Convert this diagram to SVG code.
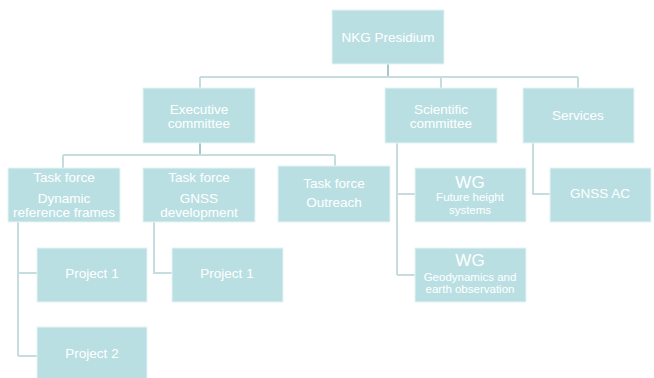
<svg xmlns="http://www.w3.org/2000/svg" width="654" height="378" viewBox="0 0 654 378">
<style>
.box{fill:#badfe3;stroke:#e6f3f4;stroke-width:1}
.t{fill:#ffffff;font-family:"Liberation Sans",Arial,sans-serif;font-size:13.5px;text-anchor:middle}
.s{font-size:11.5px}
.wg{font-size:17px}
.c{fill:none;stroke:#c6dde0;stroke-width:2}
.cd{fill:none;stroke:#a7c7cb;stroke-width:2}
</style>
<rect width="654" height="378" fill="#ffffff"/>
<g id="connectors">
<path class="cd" d="M388 64V77"/>
<path class="c" d="M200 77H578M200 77V88M441 77V88M578 77V88"/>
<path class="cd" d="M200 143V155"/>
<path class="c" d="M63 155H335M63 155V168M335 155V166"/>
<path class="c" d="M397 143V275M397 194H415M397 275H415"/>
<path class="c" d="M533 143V194H550"/>
<path class="c" d="M18 222V356M18 273H37M18 356H37"/>
<path class="c" d="M154 222V273H172"/>
</g>
<g id="presidium"><rect class="box" x="332" y="10" width="112" height="54"/><text class="t" x="388" y="42">NKG Presidium</text></g>
<g id="executive"><rect class="box" x="143" y="88" width="112" height="55"/><text class="t" x="199" y="114">Executive</text><text class="t" x="199" y="128">committee</text></g>
<g id="scientific"><rect class="box" x="385" y="88" width="112" height="55"/><text class="t" x="441" y="114">Scientific</text><text class="t" x="441" y="128">committee</text></g>
<g id="services"><rect class="box" x="523" y="88" width="111" height="55"/><text class="t" x="578" y="120">Services</text></g>
<g id="tf-dynamic"><rect class="box" x="8" y="168" width="112" height="54"/><text class="t" x="64" y="182">Task force</text><text class="t" x="64" y="203">Dynamic</text><text class="t" x="64" y="217">reference frames</text></g>
<g id="tf-gnss"><rect class="box" x="143" y="168" width="112" height="54"/><text class="t" x="199" y="182">Task force</text><text class="t" x="199" y="203">GNSS</text><text class="t" x="199" y="217">development</text></g>
<g id="tf-outreach"><rect class="box" x="278" y="166" width="112" height="56"/><text class="t" x="334" y="188">Task force</text><text class="t" x="334" y="207">Outreach</text></g>
<g id="wg-height"><rect class="box" x="415" y="168" width="111" height="54"/><text class="t wg" x="470" y="188">WG</text><text class="t s" x="470" y="201">Future height</text><text class="t s" x="470" y="214">systems</text></g>
<g id="gnss-ac"><rect class="box" x="550" y="168" width="101" height="54"/><text class="t" x="600" y="198">GNSS AC</text></g>
<g id="wg-geo"><rect class="box" x="415" y="248" width="111" height="54"/><text class="t wg" x="470" y="266">WG</text><text class="t s" x="470" y="281">Geodynamics and</text><text class="t s" x="470" y="293">earth observation</text></g>
<g id="p1-dynamic"><rect class="box" x="37" y="248" width="110" height="54"/><text class="t" x="92" y="278">Project 1</text></g>
<g id="p1-gnss"><rect class="box" x="172" y="248" width="111" height="54"/><text class="t" x="227" y="278">Project 1</text></g>
<g id="p2-dynamic"><rect class="box" x="37" y="327" width="110" height="52"/><text class="t" x="92" y="358">Project 2</text></g>
</svg>
